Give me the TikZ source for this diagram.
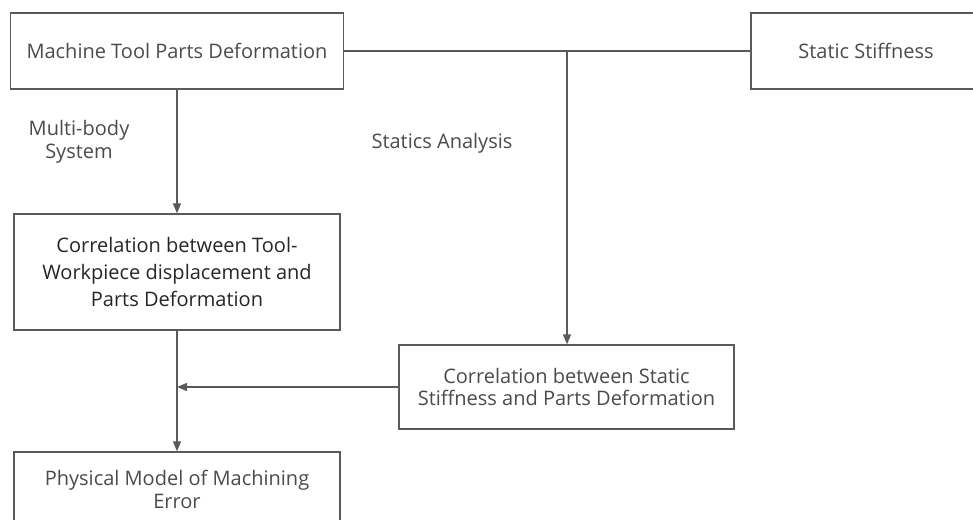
\documentclass[tikz,border=0pt]{standalone}
\usepackage{fontspec}
\setmainfont{Open Sans}
\usepackage{tikz}
\usetikzlibrary{positioning}
\usetikzlibrary{arrows.meta}
\usepackage{xcolor}
\definecolor{linegray} {RGB} {90,90,90}
\definecolor{textgray} {RGB} {75,75,75}
\tikzstyle{B} = [rectangle,draw=linegray,line width=1.4pt,fill=white,align=center,text=textgray,font=\fontsize{20}{23}\selectfont]
\tikzstyle{L} = [align=center,text=textgray,font=\fontsize{20}{23.5}\selectfont]
\tikzset{>={Triangle[length=10pt,width=8pt]}}

\begin{document}
\begin{tikzpicture}[x=1pt,y=-1pt]
  \useasboundingbox (0,0) rectangle (973,519);

  \node [B,minimum width=333,minimum height=76] (n1) at (177,51) {Machine Tool Parts Deformation};
  \node [B,minimum width=230,minimum height=76] (n2) at (866,51) {Static Stiffness};

  \node [B,minimum width=326,minimum height=116,text=black!85,font=\fontsize{20}{27}\selectfont] (n3) at (177,272) {Correlation between Tool-\\Workpiece displacement and\\Parts Deformation};
  \node [B,minimum width=335,minimum height=84,font=\fontsize{20}{22}\selectfont] (n4) at (566.5,387) {Correlation between Static\\Stiffness and Parts Deformation};
  \node [B,minimum width=326,minimum height=74] (n5) at (177,489) {Physical Model of Machining\\Error};

  \node [L] (c1) at (79,142) {Multi-body\\System};
  \node [L] (c2) at (442,143) {Statics Analysis};

  \coordinate (j1) at (567,51);
  \coordinate (j2) at (n3.south |- n4.west);

  \draw [linegray,line width=1.4pt] (n1) -- (n2);
  \draw [->,linegray,line width=1.4pt] (j1) -- (j1 |- n4.north);
  \draw [->,linegray,line width=1.4pt] (n1) -- (n3);
  \draw [->,linegray,line width=1.4pt] (n3) -- (n5);
  \draw [->,linegray,line width=1.4pt] (n4) -- (j2);

\end{tikzpicture}
\end{document}
